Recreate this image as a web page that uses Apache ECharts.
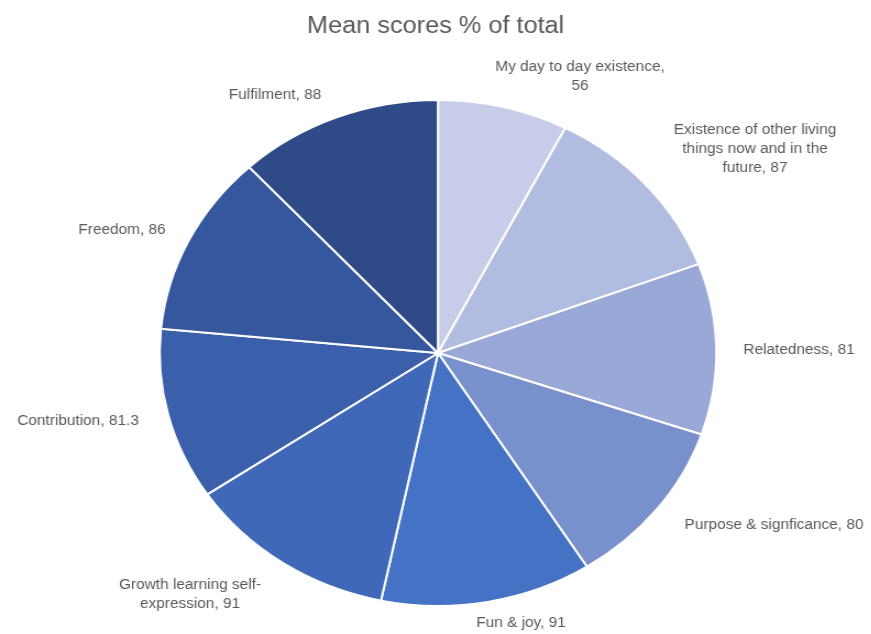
<!DOCTYPE html>
<html>
<head>
<meta charset="utf-8">
<script src="https://cdn.jsdelivr.net/npm/echarts@6/dist/echarts.min.js"></script>
<style>
  html, body { margin: 0; padding: 0; background: #fff; overflow: hidden; }
  #wrap { width: 871px; height: 634px; overflow: hidden; }
  #chart { width: 792px; height: 634px; transform: scaleX(1.1); transform-origin: 0 0; }
</style>
</head>
<body>
<div id="wrap"><div id="chart"></div></div>
<script>
// Data
const categories = [
  'My day to day existence',
  'Existence of other living things now and in the future',
  'Relatedness',
  'Purpose & signficance',
  'Fun & joy',
  'Growth learning self-expression',
  'Contribution',
  'Freedom',
  'Fulfilment'
];
const values = [56, 87, 81, 80, 91, 91, 81.3, 86, 88];
const labelTexts = [
  'My day to day existence,\n56',
  'Existence of other living\nthings now and in the\nfuture, 87',
  'Relatedness, 81',
  'Purpose & signficance, 80',
  'Fun & joy, 91',
  'Growth learning self-\nexpression, 91',
  'Contribution, 81.3',
  'Freedom, 86',
  'Fulfilment, 88'
];
const titleText = 'Mean scores % of total';

// Styles / layout (not data)
const colors = ['#c7cde8', '#b1bde0', '#98a9d7', '#7890cc', '#4472c4', '#3f68b8', '#3a5fab', '#34579e', '#2e4b88'];
const SX = 1.1; // horizontal stretch applied to the canvas
const labelPos = [ // screen coordinates of label centres
  [580, 77], [755, 149], [799, 350], [774, 525], [521, 623],
  [190, 595], [78, 421], [122, 230], [275, 95]
];

const chart = echarts.init(document.getElementById('chart'), null, { renderer: 'canvas' });
chart.setOption({
  animation: false,
  title: {
    text: titleText,
    left: 'center',
    top: 10,
    textStyle: { fontFamily: 'Liberation Sans', fontSize: 23, fontWeight: 'normal', color: '#595959' }
  },
  series: [{
    type: 'pie',
    center: [438 / SX, 353],
    radius: 253,
    startAngle: 90,
    clockwise: true,
    data: categories.map((c, i) => ({
      name: c,
      value: values[i],
      itemStyle: { color: colors[i] },
      label: { formatter: labelTexts[i] }
    })),
    itemStyle: { borderColor: '#ffffff', borderWidth: 2 },
    label: {
      show: true,
      position: 'outside',
      color: '#595959',
      fontFamily: 'Liberation Sans',
      fontSize: 14,
      lineHeight: 19,
      align: 'center',
      overflow: 'none',
      width: 300
    },
    labelLine: { show: false },
    labelLayout: function (p) {
      const pos = labelPos[p.dataIndex];
      return { x: pos[0] / SX, y: pos[1], align: 'center', verticalAlign: 'middle' };
    },
    emphasis: { disabled: true }
  }]
});
</script>
</body>
</html>
